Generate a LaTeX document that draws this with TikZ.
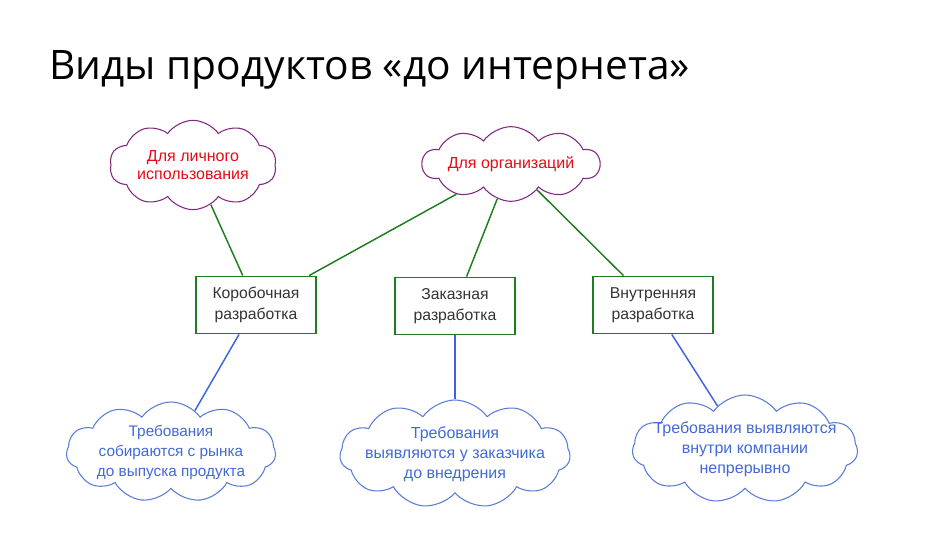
\documentclass[tikz,border=0pt]{standalone}
\usepackage{fontspec}
\setmainfont{Liberation Sans}
\newfontfamily\titlefont{Open Sans}
\usetikzlibrary{shapes.symbols}
\definecolor{cloudpurple}{RGB}{128,40,128}
\definecolor{textred}{RGB}{230,10,20}
\definecolor{linegreen}{RGB}{30,125,30}
\definecolor{lineblue}{RGB}{60,100,225}
\definecolor{cloudblue}{RGB}{90,125,215}
\definecolor{textblue}{RGB}{65,105,215}
\tikzset{
  kind/.style = {cloud, cloud puffs = 10, cloud puff arc = 110, cloud ignores aspect,
    draw = cloudpurple, text = textred, align = center, inner sep = -3pt,
    line width = 0.8pt, font = \fontsize{12}{14}\selectfont},
  need/.style = {cloud, cloud puffs = 11, cloud puff arc = 110, cloud ignores aspect,
    draw = cloudblue, text = textblue, align = center, inner sep = -6pt,
    line width = 0.8pt, font = \fontsize{12}{15}\selectfont},
  devbox/.style = {draw = linegreen, line width = 1.1pt, align = center,
    minimum width = 90pt, minimum height = 43pt, inner sep = 0pt, text = black!80,
    font = \fontsize{11.8}{15.5}\selectfont},
  greenlink/.style = {draw = linegreen, line width = 1.1pt},
  bluelink/.style = {draw = lineblue, line width = 1.1pt}
}
\begin{document}
\begin{tikzpicture}[x = 0.75pt, y = -0.75pt]
\useasboundingbox (0,0) rectangle (950,534);
\node [anchor = base west, inner sep = 0pt, at = {(49,80)}] (title)
  {\titlefont\fontsize{30.5}{36}\selectfont Виды продуктов «до интернета»};
\node [kind, minimum width = 125pt, minimum height = 67pt, at = {(193,165)}] (personal)
  {Для личного\\использования};
\node [kind, minimum width = 133pt, minimum height = 56pt, at = {(511,164)}] (business)
  {Для организаций};
\node [devbox, at = {(256,305)}] (boxed) {Коробочная\\разработка};
\node [devbox, at = {(455,306)}] (custom) {Заказная\\разработка};
\node [devbox, at = {(653,305)}] (inhouse) {Внутренняя\\разработка};
\node [need, font = \fontsize{11.5}{15}\selectfont, minimum width = 157pt,
  minimum height = 75pt, at = {(171,452)}] (market)
  {Требования\\собираются с рынка\\до выпуска продукта};
\node [need, minimum width = 165pt, minimum height = 81pt, at = {(455,454)}] (client)
  {Требования\\выявляются у заказчика\\до внедрения};
\node [need, inner sep = -9pt, minimum width = 169pt, minimum height = 81pt,
  at = {(745,449)}] (company)
  {Требования выявляются\\внутри компании\\непрерывно};
\draw [greenlink] (personal) -- (boxed);
\draw [greenlink] (business) -- (boxed);
\draw [greenlink] (business) -- (custom);
\draw [greenlink] (business) -- (inhouse);
\draw [bluelink] (boxed) -- (market);
\draw [bluelink] (custom) -- (client);
\draw [bluelink] (inhouse) -- (company);
\end{tikzpicture}
\end{document}
